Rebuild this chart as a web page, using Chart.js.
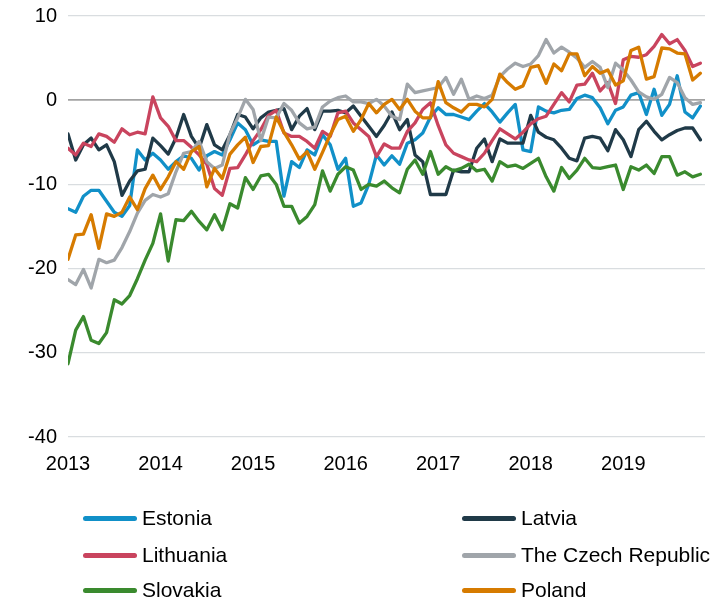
<!DOCTYPE html>
<html lang="en">
<head>
<meta charset="UTF-8">
<title>Economic sentiment</title>
<style>
  body { margin: 0; background: #fff; }
  #wrap { position: relative; width: 720px; height: 600px; }
  #myChart { position: absolute; left: 0; top: 0; }
  #legend { position: absolute; left: 0; top: 0; width: 720px; height: 600px;
    font-family: "Liberation Sans", Arial, sans-serif; font-size: 21px; color: #000; }
  .item { position: absolute; display: flex; align-items: center; white-space: nowrap; height: 24px; }
  .swatch { display: inline-block; width: 54px; height: 5px; border-radius: 3px; margin-right: 5px; }
</style>
</head>
<body>
<div id="wrap">
  <canvas id="myChart" width="720" height="600"></canvas>
  <div id="legend"></div>
</div>
<script src="https://cdn.jsdelivr.net/npm/chart.js@4.4.0/dist/chart.umd.min.js"></script>
<script>
// monthly points, Jan 2013 .. Nov 2019
var years = ['2013', '2014', '2015', '2016', '2017', '2018', '2019'];
var yearStart = [0, 12, 24, 36, 48, 60, 72];

var estonia = [-12.9, -13.3, -11.4, -10.7, -10.7, -12.0, -13.3, -13.8, -12.5, -5.9, -7.1, -6.3,
  -7.1, -8.2, -7.3, -6.6, -6.9, -8.3, -6.6, -6.1, -6.5, -4.7, -2.7, -3.5,
  -5.3, -4.7, -4.9, -4.9, -11.4, -7.3, -8.0, -5.9, -6.5, -4.1, -5.3, -8.2,
  -6.9, -12.6, -12.2, -10.0, -6.5, -7.7, -6.6, -7.6, -5.1, -4.7, -3.9, -2.0,
  -0.9, -1.7, -1.7, -2.0, -2.3, -1.3, -0.4, -1.4, -2.6, -1.5, -0.5, -5.9,
  -6.1, -0.8, -1.3, -1.5, -1.2, -1.1, 0.2, 0.6, 0.3, -0.9, -2.8, -1.2,
  -0.8, 0.6, 0.9, -1.7, 1.3, -1.8, -0.5, 2.9, -1.4, -2.1, -0.7];

var latvia = [-4.0, -7.1, -5.3, -4.5, -5.9, -5.3, -7.3, -11.3, -9.6, -8.4, -8.2, -4.5,
  -5.4, -6.4, -4.5, -1.7, -4.3, -5.7, -2.9, -5.3, -5.9, -4.1, -1.7, -2.0,
  -3.4, -2.1, -1.4, -1.2, -1.0, -3.5, -1.9, -1.0, -3.5, -1.3, -1.3, -1.2,
  -1.5, -0.7, -1.9, -3.1, -4.3, -3.0, -1.4, -3.5, -2.3, -6.5, -7.3, -11.2,
  -11.2, -11.2, -8.3, -8.5, -8.5, -5.7, -4.6, -7.3, -4.6, -5.1, -5.1, -5.1,
  -1.8, -3.8, -4.4, -4.7, -5.7, -6.9, -7.2, -4.5, -4.3, -4.5, -6.0, -3.5,
  -4.7, -6.7, -3.5, -2.5, -3.7, -4.7, -4.1, -3.6, -3.3, -3.3, -4.7];

var lithuania = [-5.7, -6.5, -5.1, -5.5, -4.0, -4.3, -5.0, -3.4, -4.1, -3.8, -4.0, 0.4,
  -2.1, -3.1, -4.8, -4.8, -5.6, -6.5, -7.6, -10.5, -11.3, -8.1, -8.0, -6.5,
  -4.8, -3.5, -1.8, -1.2, -3.9, -4.3, -4.3, -4.9, -5.7, -3.7, -4.3, -1.5,
  -1.3, -2.7, -3.5, -4.3, -6.7, -5.2, -5.7, -5.7, -3.7, -2.7, -1.1, -0.3,
  -3.0, -5.3, -6.3, -6.7, -7.1, -7.3, -6.3, -4.8, -3.4, -4.0, -4.6, -3.8,
  -2.8, -2.2, -1.9, -0.5, 0.9, -0.2, 1.8, 1.9, 3.2, 1.1, 2.1, -0.4,
  4.8, 5.2, 5.1, 5.4, 6.4, 7.8, 6.7, 7.2, 5.9, 4.0, 4.4];

var czech = [-21.3, -21.9, -20.1, -22.3, -18.9, -19.3, -19.0, -17.5, -15.6, -13.4, -11.9, -11.2,
  -11.5, -11.1, -8.5, -6.3, -6.1, -4.9, -7.3, -8.1, -7.7, -4.0, -2.1, 0.1,
  -1.1, -4.8, -2.0, -2.1, -0.4, -1.2, -2.7, -3.4, -3.2, -0.8, -0.1, 0.3,
  0.5, -0.2, -0.2, -0.4, 0.1, -0.7, -1.9, -2.3, 1.9, 0.9, 1.1, 1.3,
  1.5, 2.7, 0.7, 2.5, 0.1, 0.5, 0.2, 0.6, 2.8, 3.7, 4.4, 4.0,
  4.3, 5.3, 7.2, 5.6, 6.3, 5.7, 5.0, 3.9, 4.6, 3.9, 1.5, 4.4,
  3.6, 2.4, 1.0, 0.4, 0.1, 0.7, 2.7, 2.1, 0.3, -0.5, -0.3];

var slovakia = [-31.3, -27.3, -25.7, -28.5, -28.9, -27.6, -23.7, -24.2, -23.2, -21.2, -19.0, -17.0,
  -13.5, -19.1, -14.2, -14.3, -13.2, -14.4, -15.4, -13.6, -15.4, -12.3, -12.8, -9.2,
  -10.6, -9.0, -8.8, -10.0, -12.6, -12.6, -14.6, -13.8, -12.4, -8.4, -10.8, -8.8,
  -7.9, -8.3, -10.6, -10.0, -10.2, -9.6, -10.4, -11.0, -8.2, -7.1, -8.8, -6.1,
  -8.8, -7.9, -8.4, -8.1, -7.6, -8.4, -8.2, -9.6, -7.3, -7.9, -7.7, -8.1,
  -7.5, -6.9, -9.1, -10.8, -8.0, -9.3, -8.3, -6.9, -8.0, -8.1, -7.9, -7.7,
  -10.6, -7.9, -8.3, -7.7, -8.7, -6.7, -6.7, -8.9, -8.5, -9.1, -8.8];

var poland = [-18.9, -16.0, -15.9, -13.6, -17.6, -13.5, -13.8, -13.3, -11.5, -13.0, -10.5, -8.9,
  -10.6, -9.1, -7.3, -8.2, -6.1, -5.5, -10.3, -8.1, -9.3, -6.4, -5.3, -4.4,
  -7.4, -5.5, -5.4, -2.0, -3.8, -5.3, -7.0, -6.1, -8.2, -6.2, -4.1, -2.3,
  -1.9, -3.7, -2.3, -0.4, -1.5, -0.5, 0.1, -1.1, 0.1, -1.3, -2.1, -2.1,
  2.2, -0.3, -0.9, -1.4, -0.5, -0.5, -0.8, 0.1, 3.1, 2.1, 1.3, 1.7,
  3.9, 4.1, 2.0, 4.3, 3.5, 5.5, 5.5, 2.9, 4.0, 3.2, 3.6, 1.8,
  2.3, 5.9, 6.3, 2.5, 2.8, 6.2, 6.1, 5.6, 5.5, 2.4, 3.2];

var names = ['Estonia', 'Latvia', 'Lithuania', 'The Czech Republic', 'Slovakia', 'Poland'];
var colors = ['#1190c8', '#203a48', '#c9445e', '#a0a5aa', '#3a8a2e', '#d67b00'];
var values = [estonia, latvia, lithuania, czech, slovakia, poland];

var fontFamily = '"Liberation Sans", Arial, sans-serif';

var datasets = values.map(function (vals, k) {
  return {
    label: names[k],
    data: vals.map(function (v, i) { return { x: i, y: v }; }),
    borderColor: colors[k],
    backgroundColor: colors[k],
    order: values.length - k   // later series sit on top
  };
});

new Chart(document.getElementById('myChart'), {
  type: 'line',
  data: { datasets: datasets },
  options: {
    responsive: false,
    animation: false,
    layout: { padding: { top: 16, right: 15, bottom: 120, left: 0 } },
    elements: {
      point: { radius: 0 },
      line: { borderWidth: 3.3, tension: 0, borderJoinStyle: 'round', borderCapStyle: 'round' }
    },
    plugins: { legend: { display: false }, tooltip: { enabled: false } },
    scales: {
      x: {
        type: 'linear',
        min: 0,
        max: 82.6,
        grid: { display: false, drawTicks: false },
        border: { display: false },
        afterBuildTicks: function (s) { s.ticks = yearStart.map(function (v) { return { value: v }; }); },
        afterFit: function (s) { s.height = 43; s.paddingLeft = 0; s.paddingRight = 0; },
        ticks: {
          padding: 15, autoSkip: false, maxRotation: 0, color: '#000',
          font: { family: fontFamily, size: 20 },
          callback: function (v, i) { return years[i]; }
        }
      },
      y: {
        min: -40,
        max: 10,
        // fixed axis width; let the top label hang into the page margin
        afterFit: function (s) { s.width = 68; s.paddingTop = 0; s.paddingBottom = 0; },
        border: { display: false },
        grid: {
          drawTicks: false,
          color: function (c) { return c.tick.value === 0 ? '#a3a3a3' : '#d9dde0'; },
          lineWidth: function (c) { return c.tick.value === 0 ? 1.8 : 1.2; }
        },
        ticks: { stepSize: 10, padding: 11, color: '#000', font: { family: fontFamily, size: 20 } }
      }
    }
  }
});

// two-column legend under the plot
var legend = document.getElementById('legend');
var colX = [83, 462];
var rowY = [518, 555, 590];
names.forEach(function (name, k) {
  var item = document.createElement('div');
  item.className = 'item';
  item.style.left = colX[k % 2] + 'px';
  item.style.top = (rowY[Math.floor(k / 2)] - 12) + 'px';
  var sw = document.createElement('span');
  sw.className = 'swatch';
  sw.style.background = colors[k];
  item.appendChild(sw);
  item.appendChild(document.createTextNode(name));
  legend.appendChild(item);
});
</script>
</body>
</html>
